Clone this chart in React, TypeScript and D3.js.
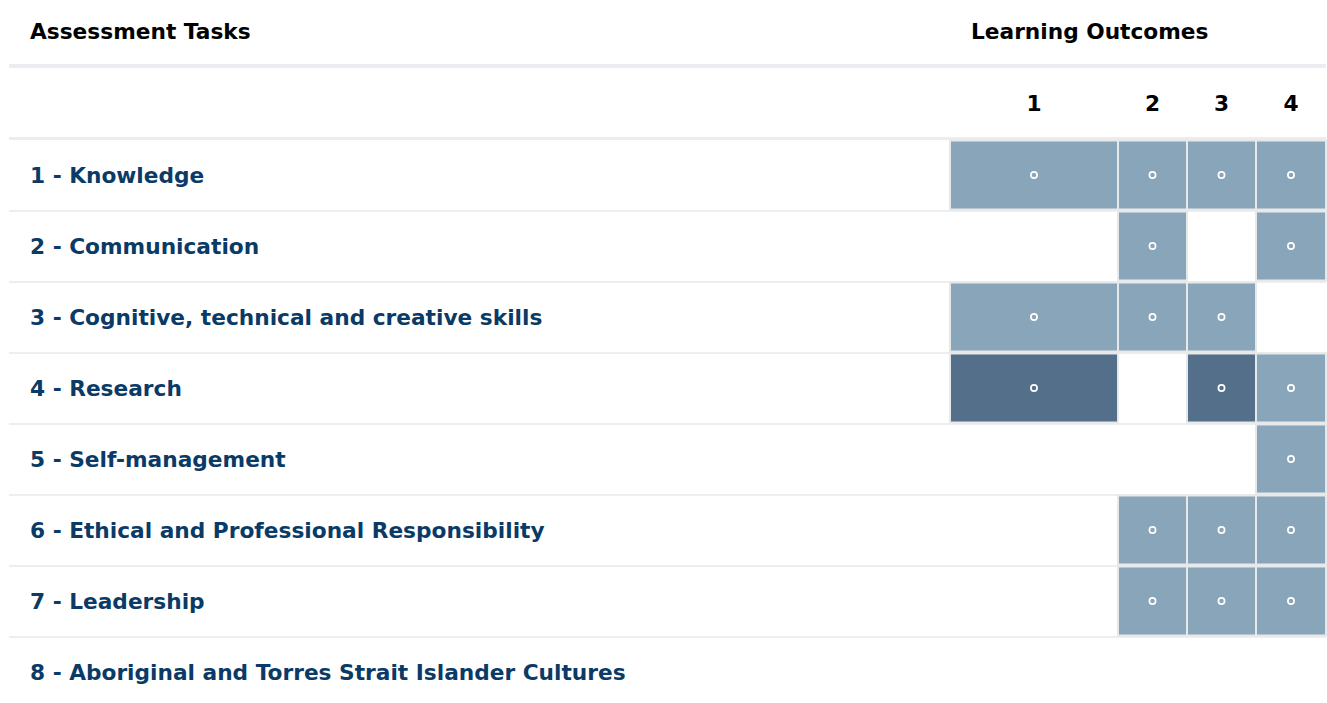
import React from "react";
import * as d3 from "d3";

const tasks = [
  "1 - Knowledge",
  "2 - Communication",
  "3 - Cognitive, technical and creative skills",
  "4 - Research",
  "5 - Self-management",
  "6 - Ethical and Professional Responsibility",
  "7 - Leadership",
  "8 - Aboriginal and Torres Strait Islander Cultures",
];
const outcomes = ["1", "2", "3", "4"];
// 0 = not assessed, 1 = assessed, 2 = strongly assessed
const lo1 = [1, 0, 1, 2, 0, 0, 0, 0];
const lo2 = [1, 1, 1, 0, 0, 1, 1, 0];
const lo3 = [1, 0, 1, 2, 0, 1, 1, 0];
const lo4 = [1, 1, 0, 1, 1, 1, 1, 0];
const levels = [lo1, lo2, lo3, lo4];

const W = 1327;
const H = 703;
const FONT = "'DejaVu Sans', sans-serif";
const FS = 21.7;

export default function App() {
  const left = 9;
  const right = 1326;
  const gridLeft = 950;
  const colWeights = [168, 69, 69, 70];
  const cum = d3.cumsum(colWeights);
  const xEdge = d3
    .scaleLinear()
    .domain([0, cum[cum.length - 1]])
    .range([gridLeft, right]);
  const colX0 = (i: number) => xEdge(i === 0 ? 0 : cum[i - 1]);
  const colX1 = (i: number) => xEdge(cum[i]);

  const y = d3
    .scaleBand<number>()
    .domain(d3.range(tasks.length))
    .range([140, 140 + 71 * tasks.length])
    .paddingInner(0)
    .paddingOuter(0);

  const color = d3
    .scaleOrdinal<number, string>()
    .domain([1, 2])
    .range(["#89a5b9", "#546f89"]);

  const capOffset = FS * 0.36;

  return (
    <svg
      width={W}
      height={H}
      style={{ position: "absolute", left: 0, top: 0, display: "block" }}
      fontFamily={FONT}
    >
      <rect x={0} y={0} width={W} height={H} fill="#fff" />
      {/* header row 1 */}
      <text x={30} y={38.5} fontSize={FS} fontWeight="bold" fill="#000">
        Assessment Tasks
      </text>
      <text x={gridLeft + 21} y={38.5} fontSize={FS} fontWeight="bold" fill="#000">
        Learning Outcomes
      </text>
      <rect x={left} y={64} width={right - left} height={4} fill="#ebedf0" />
      {/* header row 2 */}
      {outcomes.map((o, i) => (
        <text
          key={o}
          x={(colX0(i) + colX1(i)) / 2}
          y={103.5 + capOffset}
          fontSize={FS}
          fontWeight="bold"
          fill="#000"
          textAnchor="middle"
        >
          {o}
        </text>
      ))}
      <rect x={left} y={137} width={right - left} height={3} fill="#ebedf0" />
      {/* rows */}
      {tasks.map((t, r) => {
        const y0 = y(r)!;
        const bh = y.bandwidth();
        const cy = y0 + (bh - 1) / 2;
        return (
          <g key={t}>
            {r < tasks.length - 1 && (
              <rect x={left} y={y0 + bh - 1} width={right - left} height={2} fill="#eeeeee" />
            )}
            <text x={30} y={cy + 0.5 + capOffset} fontSize={FS} fontWeight="bold" fill="#0a3a66">
              {t}
            </text>
            {outcomes.map((o, c) => {
              const v = levels[c][r];
              if (!v) return null;
              const x0 = colX0(c);
              const x1 = colX1(c);
              return (
                <g key={o}>
                  <rect
                    x={x0}
                    y={y0 + 0.5}
                    width={x1 - x0}
                    height={bh - 2}
                    fill={color(v)}
                    stroke="#e6e8ea"
                    strokeWidth={2}
                  />
                  <circle
                    cx={(x0 + x1) / 2}
                    cy={cy}
                    r={3.1}
                    fill="none"
                    stroke="#fff"
                    strokeWidth={1.7}
                  />
                </g>
              );
            })}
          </g>
        );
      })}
    </svg>
  );
}
